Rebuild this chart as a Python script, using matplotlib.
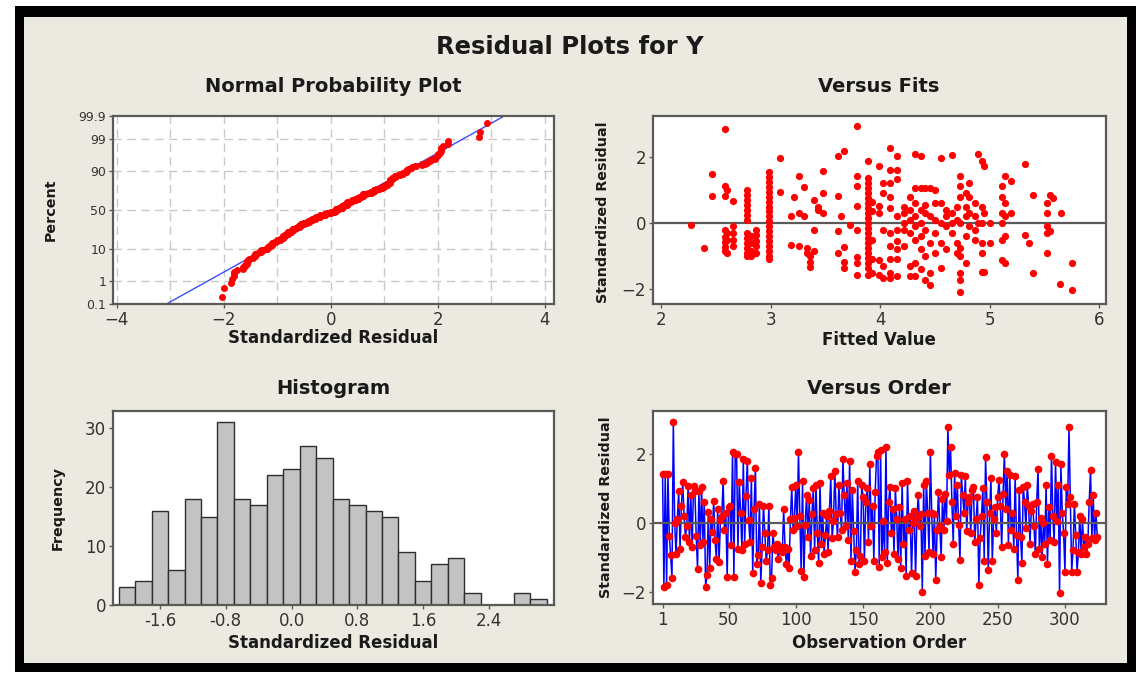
import numpy as np
import matplotlib
matplotlib.use("Agg")
import matplotlib.pyplot as plt
from matplotlib.patches import Rectangle
from statistics import NormalDist

W, H = 1139, 674

residuals = [
    1.42, -1.85, 1.42, -1.80, 1.42, -0.37, -0.94, -1.60, 2.92, 0.00,
    -0.90, 0.12, 0.93, -0.75, 0.50, 1.17, 0.20, -0.40, -0.08, 1.08,
    -0.56, 0.80, -0.70, 1.08, 0.93, -0.37, -1.33, 0.93, -0.65, 1.05,
    -0.55, 0.60, -1.86, -1.52, 0.31, -1.30, 0.10, -0.27, 0.62, -0.50,
    -1.04, 0.40, -1.13, 0.07, 0.20, 1.22, -0.22, 0.30, -1.57, 0.45,
    0.50, -0.65, 2.04, -1.56, 2.00, 1.99, -0.75, 1.17, 0.30, -0.80,
    1.85, -0.60, 0.79, 1.80, 0.07, -0.56, 1.30, -1.46, 0.40, 1.60,
    -1.20, -0.92, 0.56, -1.75, -0.70, 0.50, -0.30, -1.10, -0.80, 0.50,
    -1.80, -1.60, -0.30, -0.70, -0.80, -0.60, -1.05, -0.70, -0.80, -0.85,
    0.40, -0.70, -1.20, -0.75, -1.30, 0.10, 1.05, -0.20, 0.15, 1.10,
    -0.10, 2.05, 0.20, -1.40, 1.20, -1.56, -0.05, 0.80, -0.40, 0.65,
    -0.95, 0.25, 1.00, -0.80, 1.10, -0.30, -1.17, 1.15, -0.60, 0.30,
    -0.90, -0.35, 0.20, -0.85, 0.35, 1.35, -0.45, 0.05, 1.50, 0.25,
    -0.40, 1.10, 0.30, -0.20, 1.85, 0.80, -0.10, 1.15, -0.50, 1.80,
    -1.10, 0.95, -0.25, -1.41, -0.80, 1.20, -1.20, -0.95, 1.10, 0.75,
    -1.10, 0.60, 1.00, -0.55, 1.71, -0.10, 0.50, -1.10, 0.90, 1.95,
    2.05, -1.27, 2.10, -1.00, 0.05, -0.84, 2.19, -1.15, 0.60, 1.05,
    -0.30, 0.40, -0.90, 1.00, 0.10, -1.05, 0.45, -1.30, 1.15, -0.60,
    0.10, -1.55, 1.20, -0.20, 0.20, -1.46, 0.00, 0.35, -1.55, 0.15,
    0.80, -0.10, 0.25, -1.99, 1.10, -0.95, 1.20, 0.30, -0.85, 2.05,
    0.30, -0.90, 0.25, -1.65, -0.20, 0.90, -0.10, -1.00, 0.70, -0.20,
    0.85, 0.05, 2.79, 1.40, 2.19, 0.60, -0.60, 1.45, 0.20, 1.10,
    -0.05, -1.08, 1.40, 0.80, 0.30, 1.35, -0.25, 0.60, 0.75, -0.30,
    0.95, 1.05, -0.55, 0.10, 0.75, -1.80, -0.45, 0.20, 1.00, -1.10,
    1.90, 0.60, -1.37, 0.30, 1.30, -1.10, 0.10, 0.45, -0.30, 0.75,
    1.25, 0.50, -0.70, 0.85, 2.00, 0.40, 1.50, -0.65, 1.40, -0.20,
    0.30, -0.75, 1.35, -0.35, -1.65, 0.95, -0.40, -1.15, 1.05, 0.60,
    -0.15, 1.10, 0.50, -0.60, 0.35, 0.55, -0.10, -0.90, 0.60, 1.57,
    -0.75, 0.15, -1.00, 0.00, -0.60, 1.10, -1.20, 0.45, -0.50, 1.95,
    0.20, -0.55, 1.76, 0.05, 1.10, -2.04, 1.70, 0.30, -0.30, -1.41,
    1.05, 0.55, 2.77, 0.75, -1.41, -0.80, 0.55, -0.35, -1.41, -0.85,
    0.20, -0.90, 0.10, -0.70, -0.40, -0.90, -0.60, 0.60, 1.52, -0.45,
    0.80, -0.50, 0.30, -0.40,
]

# histogram: bin centres (width 0.2) and frequencies
bin_centers = [-2.0, -1.8, -1.6, -1.4, -1.2, -1.0, -0.8, -0.6, -0.4, -0.2,
               0.0, 0.2, 0.4, 0.6, 0.8, 1.0, 1.2, 1.4, 1.6, 1.8,
               2.0, 2.2, 2.4, 2.6, 2.8, 3.0]
frequencies = [3, 4, 16, 6, 18, 15, 31, 18, 17, 22,
               23, 27, 25, 18, 17, 16, 15, 9, 4, 7,
               8, 2, 0, 0, 2, 1]
hist_ticks = [-1.6, -0.8, 0.0, 0.8, 1.6, 2.4]

# versus fits: fitted value of each column of points, and the residuals in it
fit_columns = [2.27, 2.39, 2.46, 2.58, 2.60, 2.65, 2.78, 2.82, 2.86, 2.98,
               3.08, 3.18, 3.21, 3.26, 3.30, 3.33, 3.36, 3.39, 3.43, 3.48,
               3.61, 3.64, 3.67, 3.72, 3.79, 3.89, 3.92, 3.99, 4.02, 4.09,
               4.15, 4.22, 4.27, 4.32, 4.37, 4.41, 4.45, 4.50, 4.55, 4.60,
               4.65, 4.70, 4.73, 4.78, 4.81, 4.86, 4.89, 4.93, 4.95, 5.00,
               5.11, 5.14, 5.19, 5.32, 5.36, 5.39, 5.52, 5.55, 5.58, 5.64,
               5.65, 5.75]
fit_column_resids = [
    [-0.05], [-0.76], [1.47, 0.81],
    [2.84, 1.12, 0.81, -0.20, -0.41, -0.56, -0.71, -0.86],
    [1.00, -0.30, -0.50, -0.90],
    [0.66, -0.10, -0.30, -0.50, -0.70],
    [1.00, 0.85, 0.70, 0.55, 0.40, 0.25, 0.10, -0.30, -0.45, -0.60, -0.75, -0.90, -1.00],
    [-0.40, -0.60, -0.85, -1.00],
    [-0.20, -0.35, -0.55, -0.70, -0.90],
    [1.55, 1.40, 1.25, 1.10, 0.95, 0.80, 0.65, 0.50, 0.35, 0.20, 0.05, -0.10,
     -0.25, -0.40, -0.55, -0.70, -0.85, -1.00, -1.10],
    [1.97, 0.95], [-0.65, 0.20], [0.80], [1.42, 0.30, -0.70], [1.10, 0.20],
    [-0.90, -0.75], [-1.17, -1.32, -1.00], [0.71, -0.20, -0.86], [0.50, 0.40],
    [1.57, 0.91, 0.30],
    [2.03, 0.81, -0.25, -0.91], [0.20], [2.18, -0.71, -1.17, -1.37], [-0.05],
    [2.94, 1.42, 1.12, 0.51, -0.20, -1.02, -1.22, -1.57],
    [1.88, 1.35, 1.20, 1.05, 0.90, 0.75, 0.60, 0.45, 0.30, 0.15, 0.00, -0.15,
     -0.30, -0.45, -0.60, -0.75, -0.90, -1.05, -1.20, -1.35, -1.57],
    [0.65, 0.35, -0.50, -1.10, -1.50],
    [1.73, 0.51, 0.30, -1.12, -1.57],
    [1.20, 0.90, -0.20, -1.30, -1.65],
    [2.28, 1.62, 1.22, 0.80, 0.45, -0.30, -0.70, -1.10, -1.50, -1.65],
    [2.03, 1.62, 1.32, 0.20, -0.20, -0.55, -0.80, -1.10, -1.60],
    [0.50, 0.30, 0.00, -0.20, -0.70],
    [0.80, 0.40, 0.10, -0.30, -1.30, -1.60],
    [2.08, 1.05, 0.60, 0.20, -0.10, -0.50, -1.20, -1.60],
    [2.03, 1.05, 0.40, 0.00, -0.40, -0.80, -1.40],
    [1.05, 0.55, 0.30, -0.20, -1.00, -1.73],
    [1.05, 0.20, -0.60, -1.88, -1.50],
    [1.00, 0.60, 0.10, -0.30, -0.90],
    [1.97, 0.60, 0.00, -0.60, -1.37],
    [0.40, 0.20, -0.10, -0.80],
    [2.06, 0.30, 0.00, -0.30],
    [0.50, 0.10, -0.60, -0.90],
    [1.42, 1.12, 0.80, 0.00, -0.75, -1.00, -1.52, -1.73, -2.08],
    [0.90, 0.50, 0.20, -0.40, -1.20],
    [1.22, 0.80, 0.30, -0.10],
    [0.60, 0.20, -0.20, -0.50],
    [2.08, 0.00],
    [1.88, 0.50, 0.00, -0.60, -0.91, -1.47],
    [1.73, 0.30, -1.47],
    [0.00, -0.60],
    [1.12, 0.80, 0.30, 0.00, -0.50, -1.12],
    [1.42, 0.60, 0.20, -0.40, -1.22],
    [1.27, 0.30], [1.78, -0.36], [-0.61], [0.86, -1.52],
    [0.60, 0.30, -0.10, -0.30, -0.90],
    [0.86, -0.25], [0.76], [-1.83], [0.30], [-1.22, -2.03],
]

order_ticks = [1, 50, 100, 150, 200, 250, 300]

BEIGE = "#ECEAE0"
SPINE = "#5a5a5a"
TXT = "#1a1a1a"
TICK_TXT = "#333333"


def fx(x):
    return x / W


def fy(y):
    return 1 - y / H


def make_axes(left, top, right, bottom):
    ax = fig.add_axes([fx(left), fy(bottom), (right - left) / W, (bottom - top) / H])
    ax.set_facecolor("white")
    for s in ax.spines.values():
        s.set_color(SPINE)
        s.set_linewidth(1.6)
    ax.tick_params(direction="out", length=3, width=1, color=SPINE,
                   labelsize=12, labelcolor=TICK_TXT, pad=2)
    return ax


fig = plt.figure(figsize=(W / 100, H / 100), dpi=100)
fig.patch.set_facecolor("white")

# black frame with beige panel inside
fig.patches.append(Rectangle((fx(15), fy(672)), (1136 - 15) / W, (672 - 6) / H,
                             transform=fig.transFigure, facecolor="black",
                             edgecolor="none", zorder=-3))
fig.patches.append(Rectangle((fx(24), fy(663)), (1127 - 24) / W, (663 - 17) / H,
                             transform=fig.transFigure, facecolor=BEIGE,
                             edgecolor="none", zorder=-2))

fig.text(fx(570), fy(47), "Residual Plots for Y", ha="center", va="center",
         fontsize=17.5, fontweight="bold", color=TXT)

res = np.array(residuals)
n = len(res)

# ---- Normal probability plot ----
nd = NormalDist()
to_z = np.vectorize(lambda p: nd.inv_cdf(min(max(p, 1e-5), 100 - 1e-5) / 100), otypes=[float])
to_pct = np.vectorize(lambda z: 100 * nd.cdf(z), otypes=[float])

ax1 = make_axes(113, 116, 554, 304)
ax1.set_yscale("function", functions=(to_z, to_pct))
ranks = np.arange(1, n + 1)
pct = 100 * (ranks - 0.3) / (n + 0.4)
mu, sd = res.mean(), res.std(ddof=1)
zline = np.array([-3.5, 3.5])
ax1.plot(mu + sd * zline, to_pct(zline), color="#3b4cff", lw=1, zorder=2)
ax1.plot(np.sort(res), pct, "o", color="#ff0000", ms=5, mec="none", zorder=3)
ax1.set_xlim(-4.07, 4.17)
ax1.set_ylim(0.1, 99.9)
pct_ticks = [0.1, 1, 10, 50, 90, 99, 99.9]
ax1.set_yticks(pct_ticks)
ax1.set_yticklabels(["0.1", "1", "10", "50", "90", "99", "99.9"])
ax1.minorticks_off()
ax1.set_xticks([-4, -2, 0, 2, 4])
ax1.tick_params(axis="y", labelsize=9)
for gx in range(-4, 5):
    ax1.axvline(gx, color="#c8c8c8", lw=1, ls=(0, (6, 4)), zorder=1)
for gy in [1, 10, 50, 90, 99]:
    ax1.axhline(gy, color="#c8c8c8", lw=1, ls=(0, (6, 4)), zorder=1)

# ---- Versus fits ----
ax2 = make_axes(653, 116, 1106, 304)
fit_x = [c for c, r in zip(fit_columns, fit_column_resids) for _ in r]
fit_y = [v for r in fit_column_resids for v in r]
ax2.axhline(0, color=SPINE, lw=1.6, zorder=2)
ax2.plot(fit_x, fit_y, "o", color="#ff0000", ms=5.2, mec="none", zorder=3)
ax2.set_xlim(1.924, 6.06)
ax2.set_ylim(-2.45, 3.24)
ax2.set_xticks([2, 3, 4, 5, 6])
ax2.set_yticks([-2, 0, 2])

# ---- Histogram ----
ax3 = make_axes(113, 411, 554, 605)
ax3.bar(bin_centers, frequencies, width=0.2, color="#c3c3c3", edgecolor="#2e2e2e", lw=1)
ax3.set_xlim(-2.17, 3.19)
ax3.set_ylim(0, 32.9)
ax3.set_xticks(hist_ticks)
ax3.set_xticklabels([f"{t:.1f}" for t in hist_ticks])
ax3.set_yticks([0, 10, 20, 30])

# ---- Versus order ----
ax4 = make_axes(653, 411, 1106, 604)
obs = np.arange(1, n + 1)
ax4.plot(obs, res, color="#0000ff", lw=1.1, zorder=2)
ax4.axhline(0, color=SPINE, lw=1.6, zorder=2.5)
ax4.plot(obs, res, "o", color="#ff0000", ms=5.5, mec="none", zorder=3)
ax4.set_xlim(-6.1, 330.5)
ax4.set_ylim(-2.35, 3.24)
ax4.set_xticks(order_ticks)
ax4.set_yticks([-2, 0, 2])

# panel titles and axis labels
for x, y, s in [(333, 87, "Normal Probability Plot"), (879, 87, "Versus Fits"),
                (333, 389, "Histogram"), (879, 389, "Versus Order")]:
    fig.text(fx(x), fy(y), s, ha="center", va="center", fontsize=14,
             fontweight="bold", color=TXT)
for x, y, s in [(333, 338, "Standardized Residual"), (879, 340, "Fitted Value"),
                (333, 643, "Standardized Residual"), (879, 643, "Observation Order")]:
    fig.text(fx(x), fy(y), s, ha="center", va="center", fontsize=12,
             fontweight="bold", color=TXT)
for x, y, s in [(51, 210, "Percent"), (58, 508, "Frequency"),
                (603, 212, "Standardized Residual"), (606, 507, "Standardized Residual")]:
    fig.text(fx(x), fy(y), s, ha="center", va="center", rotation=90,
             fontsize=10.3, fontweight="bold", color=TXT)

fig.savefig("out.png", dpi=100, facecolor=fig.get_facecolor())
